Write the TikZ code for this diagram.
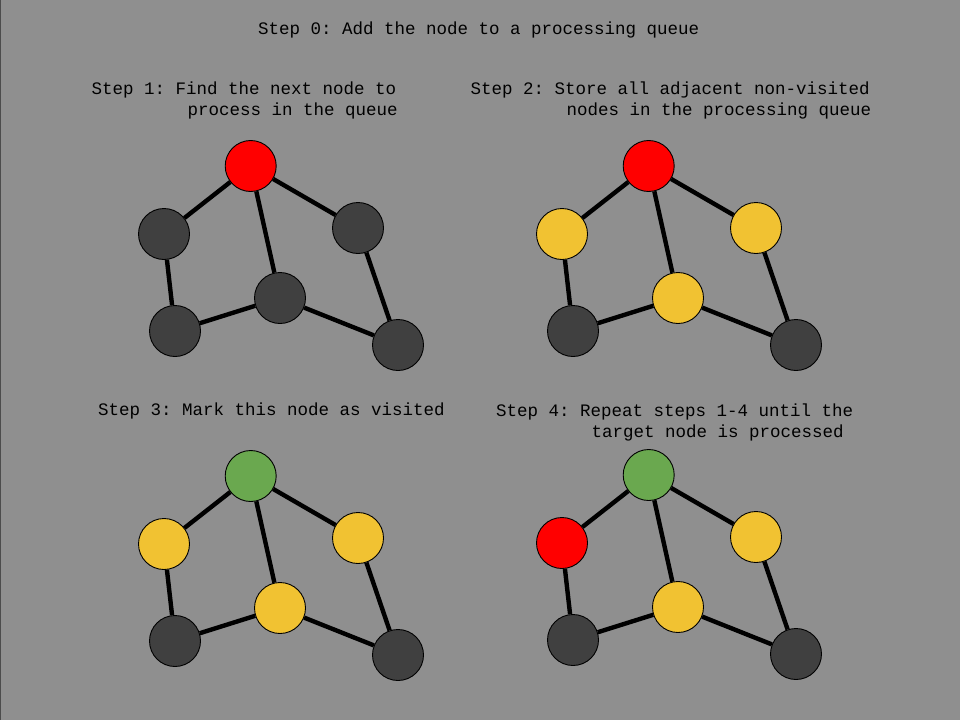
\documentclass[tikz,border=0pt]{standalone}
\usepackage{fontspec}
\setmonofont{Liberation Mono}
\definecolor{bg}{HTML}{8F8F8F}
\definecolor{darknode}{HTML}{404040}
\definecolor{yel}{HTML}{F1C232}
\definecolor{grn}{HTML}{6AA84F}
\definecolor{rednode}{HTML}{FF0000}
\tikzset{
  gnode/.style={circle,draw=black,line width=0.9pt,minimum size=51pt,inner sep=0pt},
  edge/.style={draw=black,line width=4.4pt},
  lbl/.style={anchor=base west,inner sep=0pt,font=\ttfamily\fontsize{17.5}{21}\selectfont,text=black}
}
\newcommand{\graphpanel}[6]{%
\begin{scope}[shift={#2}]
\node[gnode,fill=#3] (#1a) at (250.7,166) {};
\node[gnode,fill=#4] (#1b) at (164,234) {};
\node[gnode,fill=#5] (#1c) at (358,228) {};
\node[gnode,fill=#6] (#1d) at (280,298) {};
\node[gnode,fill=darknode] (#1e) at (175,331) {};
\node[gnode,fill=darknode] (#1f) at (398,345) {};
\draw[edge] (#1a) -- (#1b);
\draw[edge] (#1a) -- (#1c);
\draw[edge] (#1a) -- (#1d);
\draw[edge] (#1b) -- (#1e);
\draw[edge] (#1e) -- (#1d);
\draw[edge] (#1d) -- (#1f);
\draw[edge] (#1c) -- (#1f);
\end{scope}}
\begin{document}
\begin{tikzpicture}[x=1pt,y=-1pt]
\fill[bg] (0,0) rectangle (960,720);
\useasboundingbox (0,0) rectangle (960,720);
\draw[black!70,line width=1pt] (0.5,0) -- (0.5,720);
\node[lbl] (t0) at (258,34) {Step 0: Add the node to a processing queue};
\node[lbl] (t1a) at (91.5,94) {Step 1: Find the next node to};
\node[lbl] (t1b) at (187.5,115) {process in the queue};
\node[lbl] (t2a) at (470.5,94) {Step 2: Store all adjacent non-visited};
\node[lbl] (t2b) at (566.5,115) {nodes in the processing queue};
\node[lbl] (t3) at (98,415) {Step 3: Mark this node as visited};
\node[lbl] (t4a) at (496,416) {Step 4: Repeat steps 1-4 until the};
\node[lbl] (t4b) at (591.5,437) {target node is processed};
\graphpanel{p}{(0,0)}{rednode}{darknode}{darknode}{darknode}
\graphpanel{q}{(398,0)}{rednode}{yel}{yel}{yel}
\graphpanel{r}{(0,310)}{grn}{yel}{yel}{yel}
\graphpanel{s}{(398,309)}{grn}{rednode}{yel}{yel}
\end{tikzpicture}
\end{document}
